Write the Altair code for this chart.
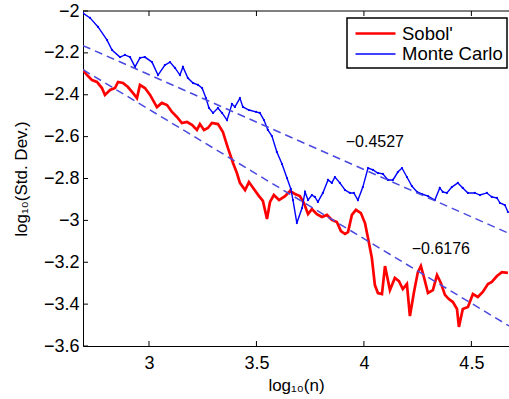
import altair as alt
import pandas as pd

# log10(n) / log10(std. dev.) traces for the two estimators
sobol_x = [2.693, 2.712, 2.735, 2.758, 2.781, 2.795, 2.819, 2.842, 2.856, 2.879,
           2.902, 2.926, 2.944, 2.958, 2.981, 3.005, 3.037, 3.060, 3.084, 3.107,
           3.130, 3.153, 3.177, 3.200, 3.223, 3.237, 3.256, 3.274, 3.293, 3.321,
           3.344, 3.367, 3.391, 3.409, 3.423, 3.447, 3.465, 3.488, 3.512, 3.530,
           3.549, 3.563, 3.581, 3.605, 3.633, 3.656, 3.679, 3.702, 3.721, 3.740,
           3.758, 3.781, 3.805, 3.828, 3.851, 3.874, 3.893, 3.912, 3.926, 3.944,
           3.963, 3.986, 4.005, 4.019, 4.037, 4.051, 4.065, 4.084, 4.098, 4.121,
           4.144, 4.163, 4.181, 4.200, 4.214, 4.233, 4.251, 4.265, 4.279, 4.298,
           4.321, 4.340, 4.358, 4.377, 4.395, 4.414, 4.433, 4.442, 4.460, 4.484,
           4.507, 4.530, 4.553, 4.577, 4.595, 4.619, 4.642, 4.670]
sobol_y = [-2.282, -2.306, -2.330, -2.339, -2.368, -2.401, -2.377, -2.368, -2.339, -2.344,
           -2.363, -2.392, -2.416, -2.353, -2.368, -2.401, -2.459, -2.439, -2.449, -2.482,
           -2.506, -2.535, -2.530, -2.544, -2.568, -2.540, -2.568, -2.559, -2.535, -2.540,
           -2.578, -2.654, -2.726, -2.774, -2.821, -2.855, -2.817, -2.850, -2.884, -2.907,
           -2.993, -2.912, -2.879, -2.903, -2.884, -2.860, -2.874, -2.884, -2.917, -2.970,
           -2.946, -2.970, -2.984, -2.974, -2.998, -3.008, -3.051, -3.065, -3.056, -2.974,
           -2.950, -2.965, -3.013, -3.084, -3.180, -3.309, -3.347, -3.352, -3.218, -3.333,
           -3.275, -3.290, -3.328, -3.304, -3.457, -3.342, -3.247, -3.218, -3.270, -3.347,
           -3.333, -3.261, -3.299, -3.356, -3.376, -3.390, -3.423, -3.509, -3.423, -3.414,
           -3.352, -3.366, -3.342, -3.304, -3.294, -3.266, -3.247, -3.251]

mc_x = [2.693, 2.726, 2.763, 2.805, 2.828, 2.865, 2.888, 2.912, 2.935, 2.958,
        2.981, 3.014, 3.042, 3.074, 3.098, 3.121, 3.144, 3.158, 3.181, 3.205,
        3.228, 3.247, 3.265, 3.279, 3.298, 3.321, 3.340, 3.363, 3.386, 3.400,
        3.423, 3.437, 3.465, 3.498, 3.516, 3.535, 3.553, 3.572, 3.595, 3.619,
        3.642, 3.660, 3.670, 3.688, 3.712, 3.726, 3.740, 3.758, 3.772, 3.786,
        3.809, 3.833, 3.851, 3.865, 3.888, 3.912, 3.935, 3.953, 3.972, 3.995,
        4.019, 4.042, 4.065, 4.088, 4.112, 4.135, 4.158, 4.177, 4.200, 4.223,
        4.247, 4.270, 4.298, 4.330, 4.353, 4.367, 4.386, 4.409, 4.437, 4.460,
        4.484, 4.516, 4.540, 4.572, 4.595, 4.619, 4.633, 4.656, 4.670]
mc_y = [-2.010, -2.033, -2.076, -2.139, -2.186, -2.220, -2.210, -2.220, -2.267, -2.224,
        -2.220, -2.244, -2.306, -2.258, -2.244, -2.272, -2.306, -2.267, -2.320, -2.344,
        -2.353, -2.368, -2.416, -2.463, -2.487, -2.463, -2.487, -2.521, -2.444, -2.458,
        -2.416, -2.458, -2.473, -2.482, -2.487, -2.521, -2.568, -2.597, -2.673, -2.731,
        -2.798, -2.850, -2.903, -3.013, -2.941, -2.864, -2.903, -2.879, -2.888, -2.912,
        -2.869, -2.807, -2.821, -2.793, -2.821, -2.855, -2.869, -2.869, -2.903, -2.841,
        -2.750, -2.759, -2.774, -2.778, -2.807, -2.807, -2.769, -2.750, -2.793, -2.836,
        -2.864, -2.874, -2.884, -2.903, -2.845, -2.864, -2.869, -2.841, -2.821, -2.845,
        -2.869, -2.869, -2.879, -2.869, -2.888, -2.893, -2.917, -2.927, -2.960]

# least-squares fits: slope and intercept in log-log space
fit_slopes = [-0.4527, -0.6176]
fit_intercepts = [-0.946, -0.617]
fit_label_x = [4.051, 4.358]
fit_label_y = [-2.626, -3.137]

X_DOMAIN = [2.693, 4.675]
Y_DOMAIN = [-3.6, -2.0]
x_ticks = [3, 3.5, 4, 4.5]
y_ticks = [-2.0, -2.2, -2.4, -2.6, -2.8, -3.0, -3.2, -3.4, -3.6]

SERIES = ["Sobol'", "Monte Carlo"]
FONT = "Liberation Sans, Arial, DejaVu Sans"
W, H = 426, 335

curves = pd.concat([
    pd.DataFrame({"x": sobol_x, "y": sobol_y, "series": SERIES[0]}),
    pd.DataFrame({"x": mc_x, "y": mc_y, "series": SERIES[1]}),
])

fit_rows = []
for k, (b, a) in enumerate(zip(fit_slopes, fit_intercepts)):
    for xv in X_DOMAIN:
        fit_rows.append({"fit": k, "x": xv, "y": a + b * xv})
fits = pd.DataFrame(fit_rows)

fit_labels = pd.DataFrame({
    "x": fit_label_x,
    "y": fit_label_y,
    "label": [f"{s:.4f}".replace("-", "\u2212") for s in fit_slopes],
})

x_scale = alt.Scale(domain=X_DOMAIN, nice=False, zero=False)
y_scale = alt.Scale(domain=Y_DOMAIN, nice=False, zero=False)

x_axis = alt.Axis(values=x_ticks, format="~g", grid=False, tickSize=0,
                  labelPadding=8, title="log\u2081\u2080(n)", titlePadding=5)
y_axis = alt.Axis(values=y_ticks, format=".1~f", grid=False, tickSize=0,
                  labelPadding=4, title="log\u2081\u2080(Std. Dev.)", titlePadding=13)

X = alt.X("x:Q", scale=x_scale, axis=x_axis)
Y = alt.Y("y:Q", scale=y_scale, axis=y_axis)

# a 40 px horizontal stroke drawn at a 20 px symbol size, so rows stay compact
legend = alt.Legend(
    title=None, orient="none", legendX=264, legendY=7,
    symbolType="M-2,0L2,0", symbolSize=400, symbolOffset=13,
    labelFontSize=18.5, labelFont=FONT, labelColor="black",
    labelOffset=15, rowPadding=0, padding=4,
)
color = alt.Color("series:N", scale=alt.Scale(domain=SERIES, range=["#ff0000", "#0000ff"]),
                  legend=legend)
stroke_w = alt.StrokeWidth("series:N", scale=alt.Scale(domain=SERIES, range=[2.7, 1.4]),
                           legend=legend)

base = alt.Chart(curves)

sobol_line = base.transform_filter(alt.datum.series == SERIES[0]).mark_line(clip=True).encode(
    x=X, y=Y, color=color, strokeWidth=stroke_w)
mc_line = base.transform_filter(alt.datum.series == SERIES[1]).mark_line(clip=True).encode(
    x=X, y=Y, color=color, strokeWidth=stroke_w)
mc_dots = base.transform_filter(alt.datum.series == SERIES[1]).mark_circle(
    size=5, opacity=1, clip=True).encode(x=X, y=Y, color=alt.value("#0000ff"))

fit_lines = alt.Chart(fits).mark_line(
    color="#4a4ae0", strokeWidth=1.5, strokeDash=[8, 5], clip=True
).encode(x=X, y=Y, detail="fit:N")

fit_text = alt.Chart(fit_labels).mark_text(
    font=FONT, fontSize=16, color="black", align="center", baseline="middle"
).encode(x=X, y=Y, text="label:N")

# inward tick marks on the left, bottom and top edges, plus the top frame line
left_ticks = alt.Chart(pd.DataFrame({"y": y_ticks})).mark_rule(color="black").encode(
    y=Y, x=alt.value(0), x2=alt.value(5))
bottom_ticks = alt.Chart(pd.DataFrame({"x": x_ticks})).mark_rule(color="black").encode(
    x=X, y=alt.value(H), y2=alt.value(H - 5))
top_ticks = alt.Chart(pd.DataFrame({"x": x_ticks})).mark_rule(color="black").encode(
    x=X, y=alt.value(0), y2=alt.value(5))
top_frame = alt.Chart(pd.DataFrame({"x": [0]})).mark_rule(color="black", strokeWidth=1).encode(
    x=alt.value(0), x2=alt.value(W), y=alt.value(0))

chart = alt.layer(
    sobol_line, mc_line, mc_dots, fit_lines, fit_text,
    left_ticks, bottom_ticks, top_ticks, top_frame,
).properties(
    width=W, height=H,
    padding={"left": 83, "top": 11, "right": 0, "bottom": 53},
    autosize=alt.AutoSizeParams(type="none"),
).configure_view(
    stroke=None
).configure_axis(
    labelFont=FONT, titleFont=FONT, labelFontSize=18, titleFontSize=17,
    titleFontWeight="normal", labelColor="black", titleColor="black",
    domainColor="black", domainWidth=1,
).configure_legend(
    strokeColor="black", fillColor="white", strokeWidth=1.5, cornerRadius=0,
)

chart.save("out.html", embed_options={"renderer": "svg", "actions": False})
